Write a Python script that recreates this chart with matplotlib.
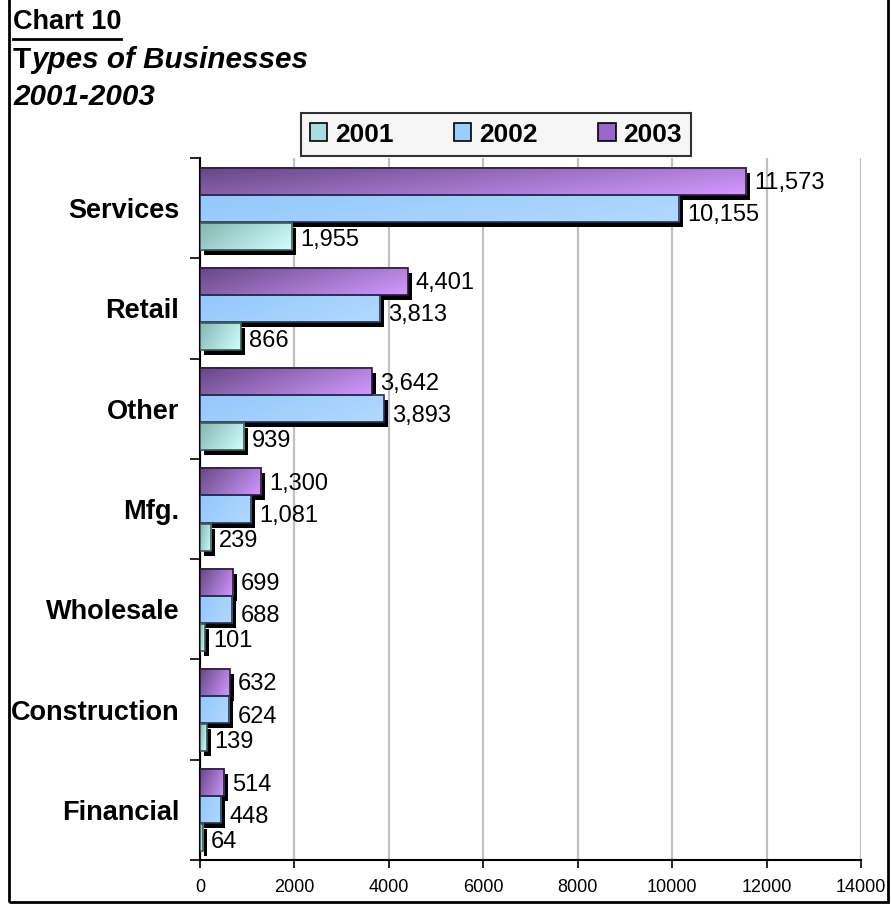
import numpy as np
import matplotlib
matplotlib.use('Agg')
import matplotlib.pyplot as plt
import matplotlib.transforms as mtransforms
from matplotlib.patches import Rectangle, Patch

plt.rcParams['font.family'] = ['Liberation Sans', 'DejaVu Sans']

categories = ['Services', 'Retail', 'Other', 'Mfg.', 'Wholesale', 'Construction', 'Financial']
years = ['2001', '2002', '2003']
v2001 = [1955, 866, 939, 239, 101, 139, 64]
v2002 = [10155, 3813, 3893, 1081, 688, 624, 448]
v2003 = [11573, 4401, 3642, 1300, 699, 632, 514]

# gradient corners per series: (dark top-left, light bottom-right)
grad = {
    '2001': ((0.52, 0.72, 0.69), (0.82, 1.00, 1.00)),
    '2002': ((0.58, 0.78, 0.98), (0.70, 0.85, 1.00)),
    '2003': ((0.40, 0.28, 0.52), (0.82, 0.60, 1.00)),
}
edge = {'2001': '#3a5a58', '2002': '#223355', '2003': '#2a1a3a'}
legend_face = {'2001': '#aadddd', '2002': '#99ccff', '2003': '#9966cc'}

fig = plt.figure(figsize=(8.91, 9.05), dpi=100)
ax = fig.add_axes([200/891, 45/905, 661/891, 702/905])

def gradient(c0, c1, n=32):
    gx, gy = np.meshgrid(np.linspace(0, 1, n), np.linspace(0, 1, n))
    t = np.clip(0.7*gx + 0.3*gy, 0, 1)[..., None]
    return (1-t)*np.array(c0) + t*np.array(c1)

shadow = ax.transData + mtransforms.ScaledTranslation(4/100, -5/100, fig.dpi_scale_trans)
h = 0.27
offsets = {'2003': -0.27, '2002': 0.0, '2001': 0.28}
label_dy = {'2003': -2, '2002': -7, '2001': -4}
series = {'2001': v2001, '2002': v2002, '2003': v2003}

for yr in ['2003', '2002', '2001']:
    vals = series[yr]
    img = gradient(*grad[yr])
    for i, v in enumerate(vals):
        y0 = i + offsets[yr] - h/2
        ax.add_patch(Rectangle((0, y0), v, h, facecolor='black', edgecolor='none',
                               transform=shadow, zorder=3))
        ax.imshow(img, extent=(0, v, y0 + h, y0), aspect='auto', zorder=4,
                  interpolation='bilinear')
        ax.add_patch(Rectangle((0, y0), v, h, facecolor='none', edgecolor=edge[yr],
                               lw=1.2, zorder=5))
        ax.annotate(f'{v:,}', xy=(v, i + offsets[yr]), xytext=(8, label_dy[yr]),
                    textcoords='offset pixels', va='center', ha='left',
                    fontsize=17, zorder=6)

ax.set_xlim(0, 14000)
ax.set_ylim(6.5, -0.5)
ax.set_xticks(np.arange(0, 14001, 2000))
ax.tick_params(axis='x', labelsize=13, length=6, width=1.2, direction='out', pad=8)
ax.set_yticks(np.arange(-0.5, 7, 1))
ax.set_yticklabels([])
ax.set_yticks(range(len(categories)), minor=True)
ax.set_yticklabels(categories, minor=True, fontsize=19.5, fontweight='bold')
ax.tick_params(axis='y', which='major', length=7, width=1.2)
ax.tick_params(axis='y', which='minor', length=0, pad=15)
ax.grid(axis='x', color='#c0c0c0', lw=1.6, zorder=0)
ax.set_axisbelow(True)
for s in ['top', 'right']:
    ax.spines[s].set_visible(False)
for s in ['left', 'bottom']:
    ax.spines[s].set_linewidth(1.5)

# legend
handles = [Patch(facecolor=legend_face[y], edgecolor='black', lw=1.2) for y in years]
leg = fig.legend(handles, years, loc='center', bbox_to_anchor=(496/891, 1 - 134.5/905),
                 ncol=3, frameon=True, fancybox=False, edgecolor='black',
                 facecolor='#f4f4f4', prop={'weight': 'bold', 'size': 19},
                 handlelength=0.65, handleheight=0.65, handletextpad=0.3,
                 columnspacing=2.3, borderpad=0.35)
leg.get_frame().set_linewidth(1.5)

# titles
fig.text(13/891, 1 - 22/905, 'Chart 10', fontsize=19.5, fontweight='bold', va='center')
fig.add_artist(plt.Line2D([13/891, 121/891], [1 - 39/905, 1 - 39/905], color='black',
                          lw=2, transform=fig.transFigure))
t1 = fig.text(13/891, 1 - 60/905, 'T', fontsize=21.3, fontweight='bold', va='center')
fig.add_artist(matplotlib.text.Annotation('ypes of Businesses', xy=(1, 0.5), xycoords=t1,
                                          va='center', fontsize=21.3, fontweight='bold',
                                          fontstyle='italic'))
fig.text(13/891, 1 - 97/905, '2001-2003', fontsize=21.3, fontweight='bold',
         fontstyle='italic', va='center')

fig.add_artist(Rectangle((9/891, 3/905), 879/891, 1.2, transform=fig.transFigure,
                         fill=False, edgecolor='black', lw=2))

fig.savefig('out.png', dpi=100)
